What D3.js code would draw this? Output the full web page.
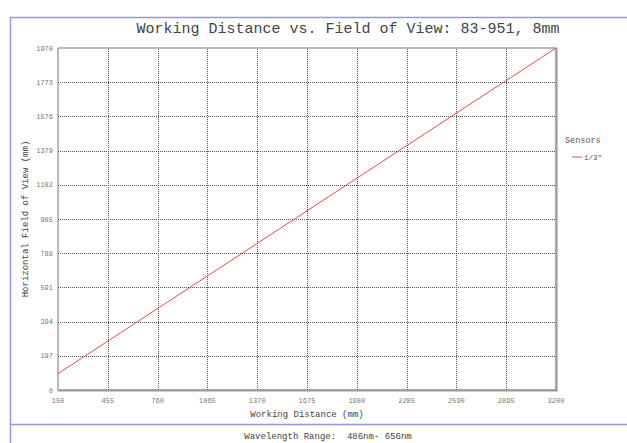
<!DOCTYPE html>
<html>
<head>
<meta charset="utf-8">
<script src="https://cdn.jsdelivr.net/npm/d3@7"></script>
<style>
  body { margin: 0; background: #fff; }
  text { font-family: "Courier New", "Liberation Mono", monospace; white-space: pre; }
</style>
</head>
<body>
<svg id="chart"></svg>
<script>
// chart data
var xTicks = [150, 455, 760, 1065, 1370, 1675, 1980, 2285, 2590, 2895, 3200];
var yTicks = [0, 197, 394, 591, 788, 985, 1182, 1379, 1576, 1773, 1970];
var sensorNames = ["1/3\""];
var workingDistance = [150, 3200];
var fieldOfView = [94, 1970];

var width = 627;
var height = 443;
var margin = { left: 58, right: 71, top: 48, bottom: 53 };

var svg = d3.select("#chart")
    .attr("width", width)
    .attr("height", height);

// blue frame
var frameColor = "#9494ea";
svg.append("line").attr("x1", 10).attr("x2", width).attr("y1", 17.5).attr("y2", 17.5)
    .attr("stroke", frameColor).attr("stroke-width", 1.5);
svg.append("line").attr("x1", 10.5).attr("x2", 10.5).attr("y1", 17).attr("y2", height)
    .attr("stroke", frameColor).attr("stroke-width", 1.5);
svg.append("line").attr("x1", 10).attr("x2", width).attr("y1", 424.5).attr("y2", 424.5)
    .attr("stroke", frameColor).attr("stroke-width", 1.5);

var x = d3.scaleLinear()
    .domain([150, 3200])
    .range([margin.left, width - margin.right]);

var y = d3.scaleLinear()
    .domain([0, 1970])
    .range([height - margin.bottom, margin.top]);

var g = svg.append("g");

// grid lines
g.selectAll(".xgrid")
    .data(xTicks.slice(1, -1))
    .enter()
    .append("line")
    .attr("x1", function (d) { return Math.round(x(d)) + 0.5; })
    .attr("x2", function (d) { return Math.round(x(d)) + 0.5; })
    .attr("y1", y(0))
    .attr("y2", y(1970))
    .attr("stroke", "#555")
    .attr("stroke-dasharray", "1,1");

g.selectAll(".ygrid")
    .data(yTicks.slice(1, -1))
    .enter()
    .append("line")
    .attr("x1", x(150))
    .attr("x2", x(3200))
    .attr("y1", function (d) { return Math.round(y(d)) + 0.5; })
    .attr("y2", function (d) { return Math.round(y(d)) + 0.5; })
    .attr("stroke", "#555")
    .attr("stroke-dasharray", "1,1");

// plot border
g.append("rect")
    .attr("x", x(150))
    .attr("y", y(1970))
    .attr("width", x(3200) - x(150))
    .attr("height", y(0) - y(1970))
    .attr("fill", "none")
    .attr("stroke", "#777")
    .attr("stroke-width", 1);
g.append("line").attr("x1", x(3200) + 0.5).attr("x2", x(3200) + 0.5)
    .attr("y1", y(1970)).attr("y2", y(0) + 1)
    .attr("stroke", "#999").attr("stroke-width", 2);
g.append("line").attr("x1", x(150)).attr("x2", x(3200) + 1.5)
    .attr("y1", y(0) + 0.5).attr("y2", y(0) + 0.5)
    .attr("stroke", "#999").attr("stroke-width", 2);

// tick labels
g.selectAll(".xlabel")
    .data(xTicks)
    .enter()
    .append("text")
    .attr("x", function (d) { return x(d); })
    .attr("y", y(0) + 13)
    .attr("text-anchor", "middle")
    .attr("font-size", 7)
    .attr("fill", "#777")
    .text(function (d) { return d; });

g.selectAll(".ylabel")
    .data(yTicks)
    .enter()
    .append("text")
    .attr("x", x(150) - 5)
    .attr("y", function (d) { return y(d) + 2.5; })
    .attr("text-anchor", "end")
    .attr("font-size", 7)
    .attr("fill", "#777")
    .text(function (d) { return d; });

// sensor line
var line = d3.line()
    .x(function (d) { return x(d[0]); })
    .y(function (d) { return y(d[1]); });

g.append("path")
    .datum(d3.zip(workingDistance, fieldOfView))
    .attr("d", line)
    .attr("fill", "none")
    .attr("stroke", "#e8474c")
    .attr("stroke-width", 1);

// titles
svg.append("text")
    .attr("x", 348)
    .attr("y", 33)
    .attr("text-anchor", "middle")
    .attr("font-size", 15)
    .attr("fill", "#444")
    .text("Working Distance vs. Field of View: 83-951, 8mm");

svg.append("text")
    .attr("x", 307)
    .attr("y", 417)
    .attr("text-anchor", "middle")
    .attr("font-size", 9)
    .attr("fill", "#444")
    .text("Working Distance (mm)");

svg.append("text")
    .attr("transform", "translate(28," + (y(985)) + ") rotate(-90)")
    .attr("text-anchor", "middle")
    .attr("font-size", 9)
    .attr("fill", "#444")
    .text("Horizontal Field of View (mm)");

svg.append("text")
    .attr("x", 328)
    .attr("y", 439)
    .attr("text-anchor", "middle")
    .attr("font-size", 9)
    .attr("fill", "#444")
    .text("Wavelength Range:  486nm- 656nm");

// legend
svg.append("text")
    .attr("x", 565)
    .attr("y", 143)
    .attr("font-size", 8.5)
    .attr("fill", "#555")
    .text("Sensors");

var legend = svg.selectAll(".legend")
    .data(sensorNames)
    .enter()
    .append("g")
    .attr("transform", function (d, i) { return "translate(572," + (157 + i * 14) + ")"; });

legend.append("line")
    .attr("x1", 0).attr("x2", 10)
    .attr("stroke", "#f08a8d")
    .attr("stroke-width", 1.5);

legend.append("text")
    .attr("x", 12)
    .attr("y", 2.5)
    .attr("font-size", 7.5)
    .attr("fill", "#555")
    .text(function (d) { return d; });
</script>
</body>
</html>
